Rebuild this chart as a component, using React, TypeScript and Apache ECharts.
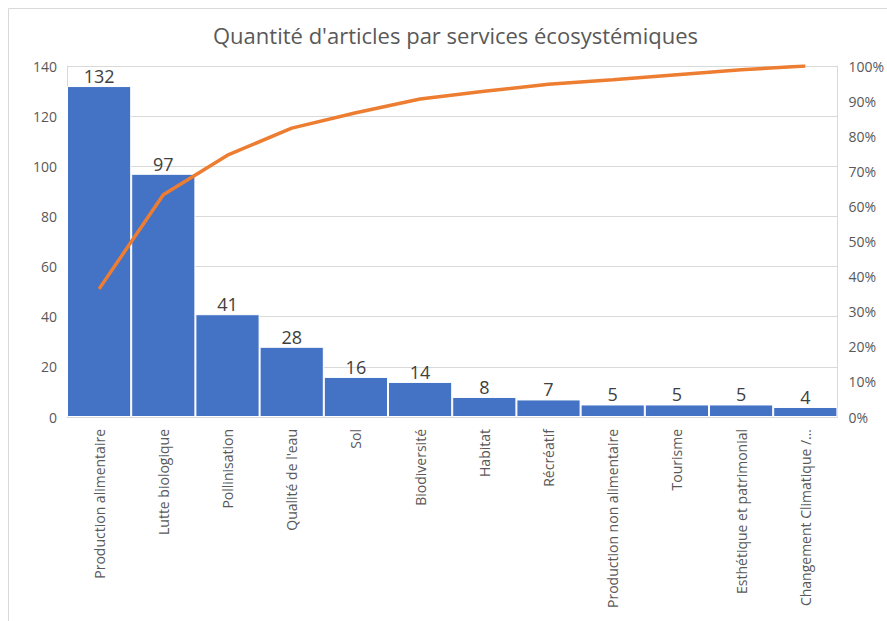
import React, { useEffect, useRef } from "react";
import * as echarts from "echarts";

const categories = [
  "Production alimentaire",
  "Lutte biologique",
  "Pollinisation",
  "Qualité de l'eau",
  "Sol",
  "Biodiversité",
  "Habitat",
  "Récréatif",
  "Production non alimentaire",
  "Tourisme",
  "Esthétique et patrimonial",
  "Changement Climatique /…",
];
const counts = [132, 97, 41, 28, 16, 14, 8, 7, 5, 5, 5, 4];
const cumulativePct = [36.5, 63.3, 74.6, 82.3, 86.7, 90.6, 92.8, 94.8, 96.1, 97.5, 98.9, 100];
const leftTicks = { min: 0, max: 140, interval: 20 };
const rightTicks = { min: 0, max: 100, interval: 10 };
const titleText = "Quantité d'articles par services écosystémiques";

const FONT = "'Open Sans', 'Noto Sans', sans-serif";

export default function App() {
  const ref = useRef<HTMLDivElement>(null);
  useEffect(() => {
    if (!ref.current) return;
    const chart = echarts.init(ref.current, undefined, { renderer: "svg" });
    chart.setOption({
      animation: false,
      backgroundColor: "#ffffff",
      textStyle: { fontFamily: FONT },
      title: {
        text: titleText,
        left: 208,
        top: 19,
        textStyle: { fontFamily: FONT, fontSize: 22, fontWeight: "normal", color: "#595959" },
      },
      graphic: [
        {
          type: "rect",
          shape: { x: 8.5, y: 8.5, width: 900, height: 640 },
          style: { fill: "none", stroke: "#d9d9d9", lineWidth: 1 },
          silent: true,
          z: -10,
        },
      ],
      grid: { left: 67, right: 45, top: 66, bottom: 204, containLabel: false },
      xAxis: {
        type: "category",
        data: categories,
        axisTick: { show: false },
        axisLine: { show: true, lineStyle: { color: "#d9d9d9", width: 1 } },
        axisLabel: {
          rotate: 90,
          interval: 0,
          color: "#595959",
          fontSize: 14,
          fontFamily: FONT,
          margin: 12,
        },
      },
      yAxis: [
        {
          type: "value",
          min: leftTicks.min,
          max: leftTicks.max,
          interval: leftTicks.interval,
          axisLine: { show: true, lineStyle: { color: "#d9d9d9" } },
          axisTick: { show: false },
          splitLine: { show: true, lineStyle: { color: "#d9d9d9", width: 1 } },
          axisLabel: { color: "#595959", fontSize: 14, fontFamily: FONT, margin: 10 },
        },
        {
          type: "value",
          min: rightTicks.min,
          max: rightTicks.max,
          interval: rightTicks.interval,
          position: "right",
          axisLine: { show: true, lineStyle: { color: "#d9d9d9" } },
          axisTick: { show: false },
          splitLine: { show: false },
          axisLabel: {
            color: "#595959",
            fontSize: 14,
            fontFamily: FONT,
            margin: 11,
            formatter: (v: number) => v + "%",
          },
        },
      ],
      series: [
        {
          type: "bar",
          data: counts,
          barCategoryGap: "0%",
          itemStyle: { color: "#4472C4", borderColor: "#ffffff", borderWidth: 1 },
          label: {
            show: true,
            position: "top",
            distance: 1,
            color: "#404040",
            fontSize: 18,
            fontFamily: FONT,
          },
        },
        {
          type: "line",
          yAxisIndex: 1,
          data: cumulativePct,
          symbol: "none",
          lineStyle: { color: "#ED7D31", width: 3.5 },
          z: 5,
        },
      ],
    });
    return () => chart.dispose();
  }, []);
  return (
    <div
      ref={ref}
      style={{ position: "fixed", left: 0, top: 0, width: 887, height: 621, background: "#fff" }}
    />
  );
}
